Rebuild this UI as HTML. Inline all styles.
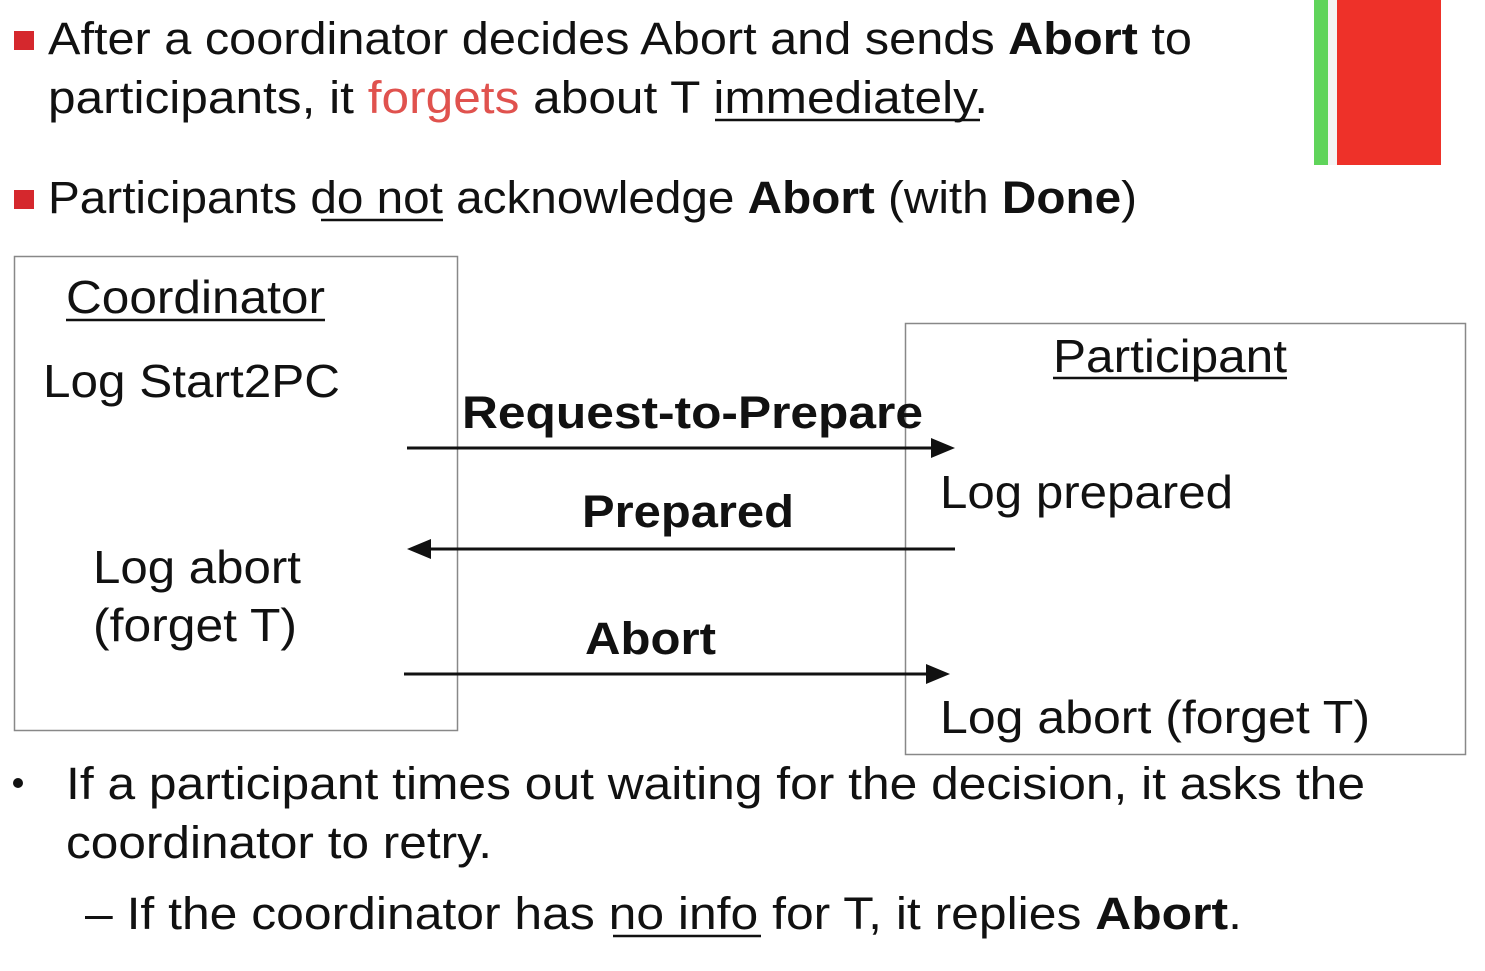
<!DOCTYPE html>
<html><head><meta charset="utf-8"><style>
html,body{margin:0;padding:0;background:#fff;}
svg{display:block;}
text{font-family:"Liberation Sans",Arial,sans-serif;fill:#111;}
.b{font-weight:bold;}
</style></head><body>
<svg width="1485" height="971" viewBox="0 0 1485 971" xmlns="http://www.w3.org/2000/svg">
<rect x="1314" y="0" width="14" height="165" fill="#5fd45a"/>
<rect x="1328" y="0" width="9" height="165" fill="#f4f4f4"/>
<rect x="1337" y="0" width="104" height="165" fill="#ee3129"/>
<rect x="14" y="31" width="20" height="19" fill="#d5282d"/>
<rect x="14" y="190" width="20" height="19" fill="#d5282d"/>
<text x="48" y="54" font-size="45" textLength="1144" lengthAdjust="spacingAndGlyphs">After a coordinator decides Abort and sends <tspan class="b">Abort</tspan> to</text>
<text x="48" y="113" font-size="45" textLength="940" lengthAdjust="spacingAndGlyphs">participants, it <tspan fill="#e0524e">forgets</tspan> about T immediately.</text>
<line x1="715" y1="120" x2="980" y2="120" stroke="#111" stroke-width="2.5"/>
<text x="48" y="213" font-size="45" textLength="1089" lengthAdjust="spacingAndGlyphs">Participants do not acknowledge <tspan class="b">Abort</tspan> (with <tspan class="b">Done</tspan>)</text>
<line x1="321" y1="220" x2="443" y2="220" stroke="#111" stroke-width="2.5"/>
<rect x="14.5" y="256.5" width="443" height="474" fill="none" stroke="#888" stroke-width="1.5"/>
<rect x="905.5" y="323.5" width="560" height="431" fill="none" stroke="#888" stroke-width="1.5"/>
<text x="66" y="313" font-size="46" textLength="259" lengthAdjust="spacingAndGlyphs">Coordinator</text>
<line x1="66" y1="320" x2="325" y2="320" stroke="#111" stroke-width="2.5"/>
<text x="43" y="397" font-size="46" textLength="297" lengthAdjust="spacingAndGlyphs">Log Start2PC</text>
<text x="93" y="583" font-size="46" textLength="208" lengthAdjust="spacingAndGlyphs">Log abort</text>
<text x="93" y="641" font-size="46" textLength="204" lengthAdjust="spacingAndGlyphs">(forget T)</text>
<text x="1053" y="372" font-size="46" textLength="234" lengthAdjust="spacingAndGlyphs">Participant</text>
<line x1="1053" y1="378" x2="1287" y2="378" stroke="#111" stroke-width="2.5"/>
<text x="940" y="508" font-size="46" textLength="293" lengthAdjust="spacingAndGlyphs">Log prepared</text>
<text x="940" y="733" font-size="46" textLength="430" lengthAdjust="spacingAndGlyphs">Log abort (forget T)</text>
<text class="b" x="462" y="428" font-size="45" textLength="461" lengthAdjust="spacingAndGlyphs">Request-to-Prepare</text>
<text class="b" x="582" y="527" font-size="45" textLength="212" lengthAdjust="spacingAndGlyphs">Prepared</text>
<text class="b" x="585" y="654" font-size="45" textLength="131" lengthAdjust="spacingAndGlyphs">Abort</text>
<line x1="407" y1="448" x2="935" y2="448" stroke="#111" stroke-width="3"/>
<polygon points="955,448 931,438 931,458" fill="#111"/>
<line x1="428" y1="549" x2="955" y2="549" stroke="#111" stroke-width="3"/>
<polygon points="407,549 431,539 431,559" fill="#111"/>
<line x1="404" y1="674" x2="930" y2="674" stroke="#111" stroke-width="3"/>
<polygon points="950,674 926,664 926,684" fill="#111"/>
<circle cx="18" cy="783" r="5" fill="#111"/>
<text x="66" y="799" font-size="45" textLength="1299" lengthAdjust="spacingAndGlyphs">If a participant times out waiting for the decision, it asks the</text>
<text x="66" y="858" font-size="45" textLength="426" lengthAdjust="spacingAndGlyphs">coordinator to retry.</text>
<text x="85" y="929" font-size="45" textLength="1157" lengthAdjust="spacingAndGlyphs">– If the coordinator has no info for T, it replies <tspan class="b">Abort</tspan>.</text>
<line x1="613" y1="936" x2="761" y2="936" stroke="#111" stroke-width="2.5"/>
</svg>
</body></html>
